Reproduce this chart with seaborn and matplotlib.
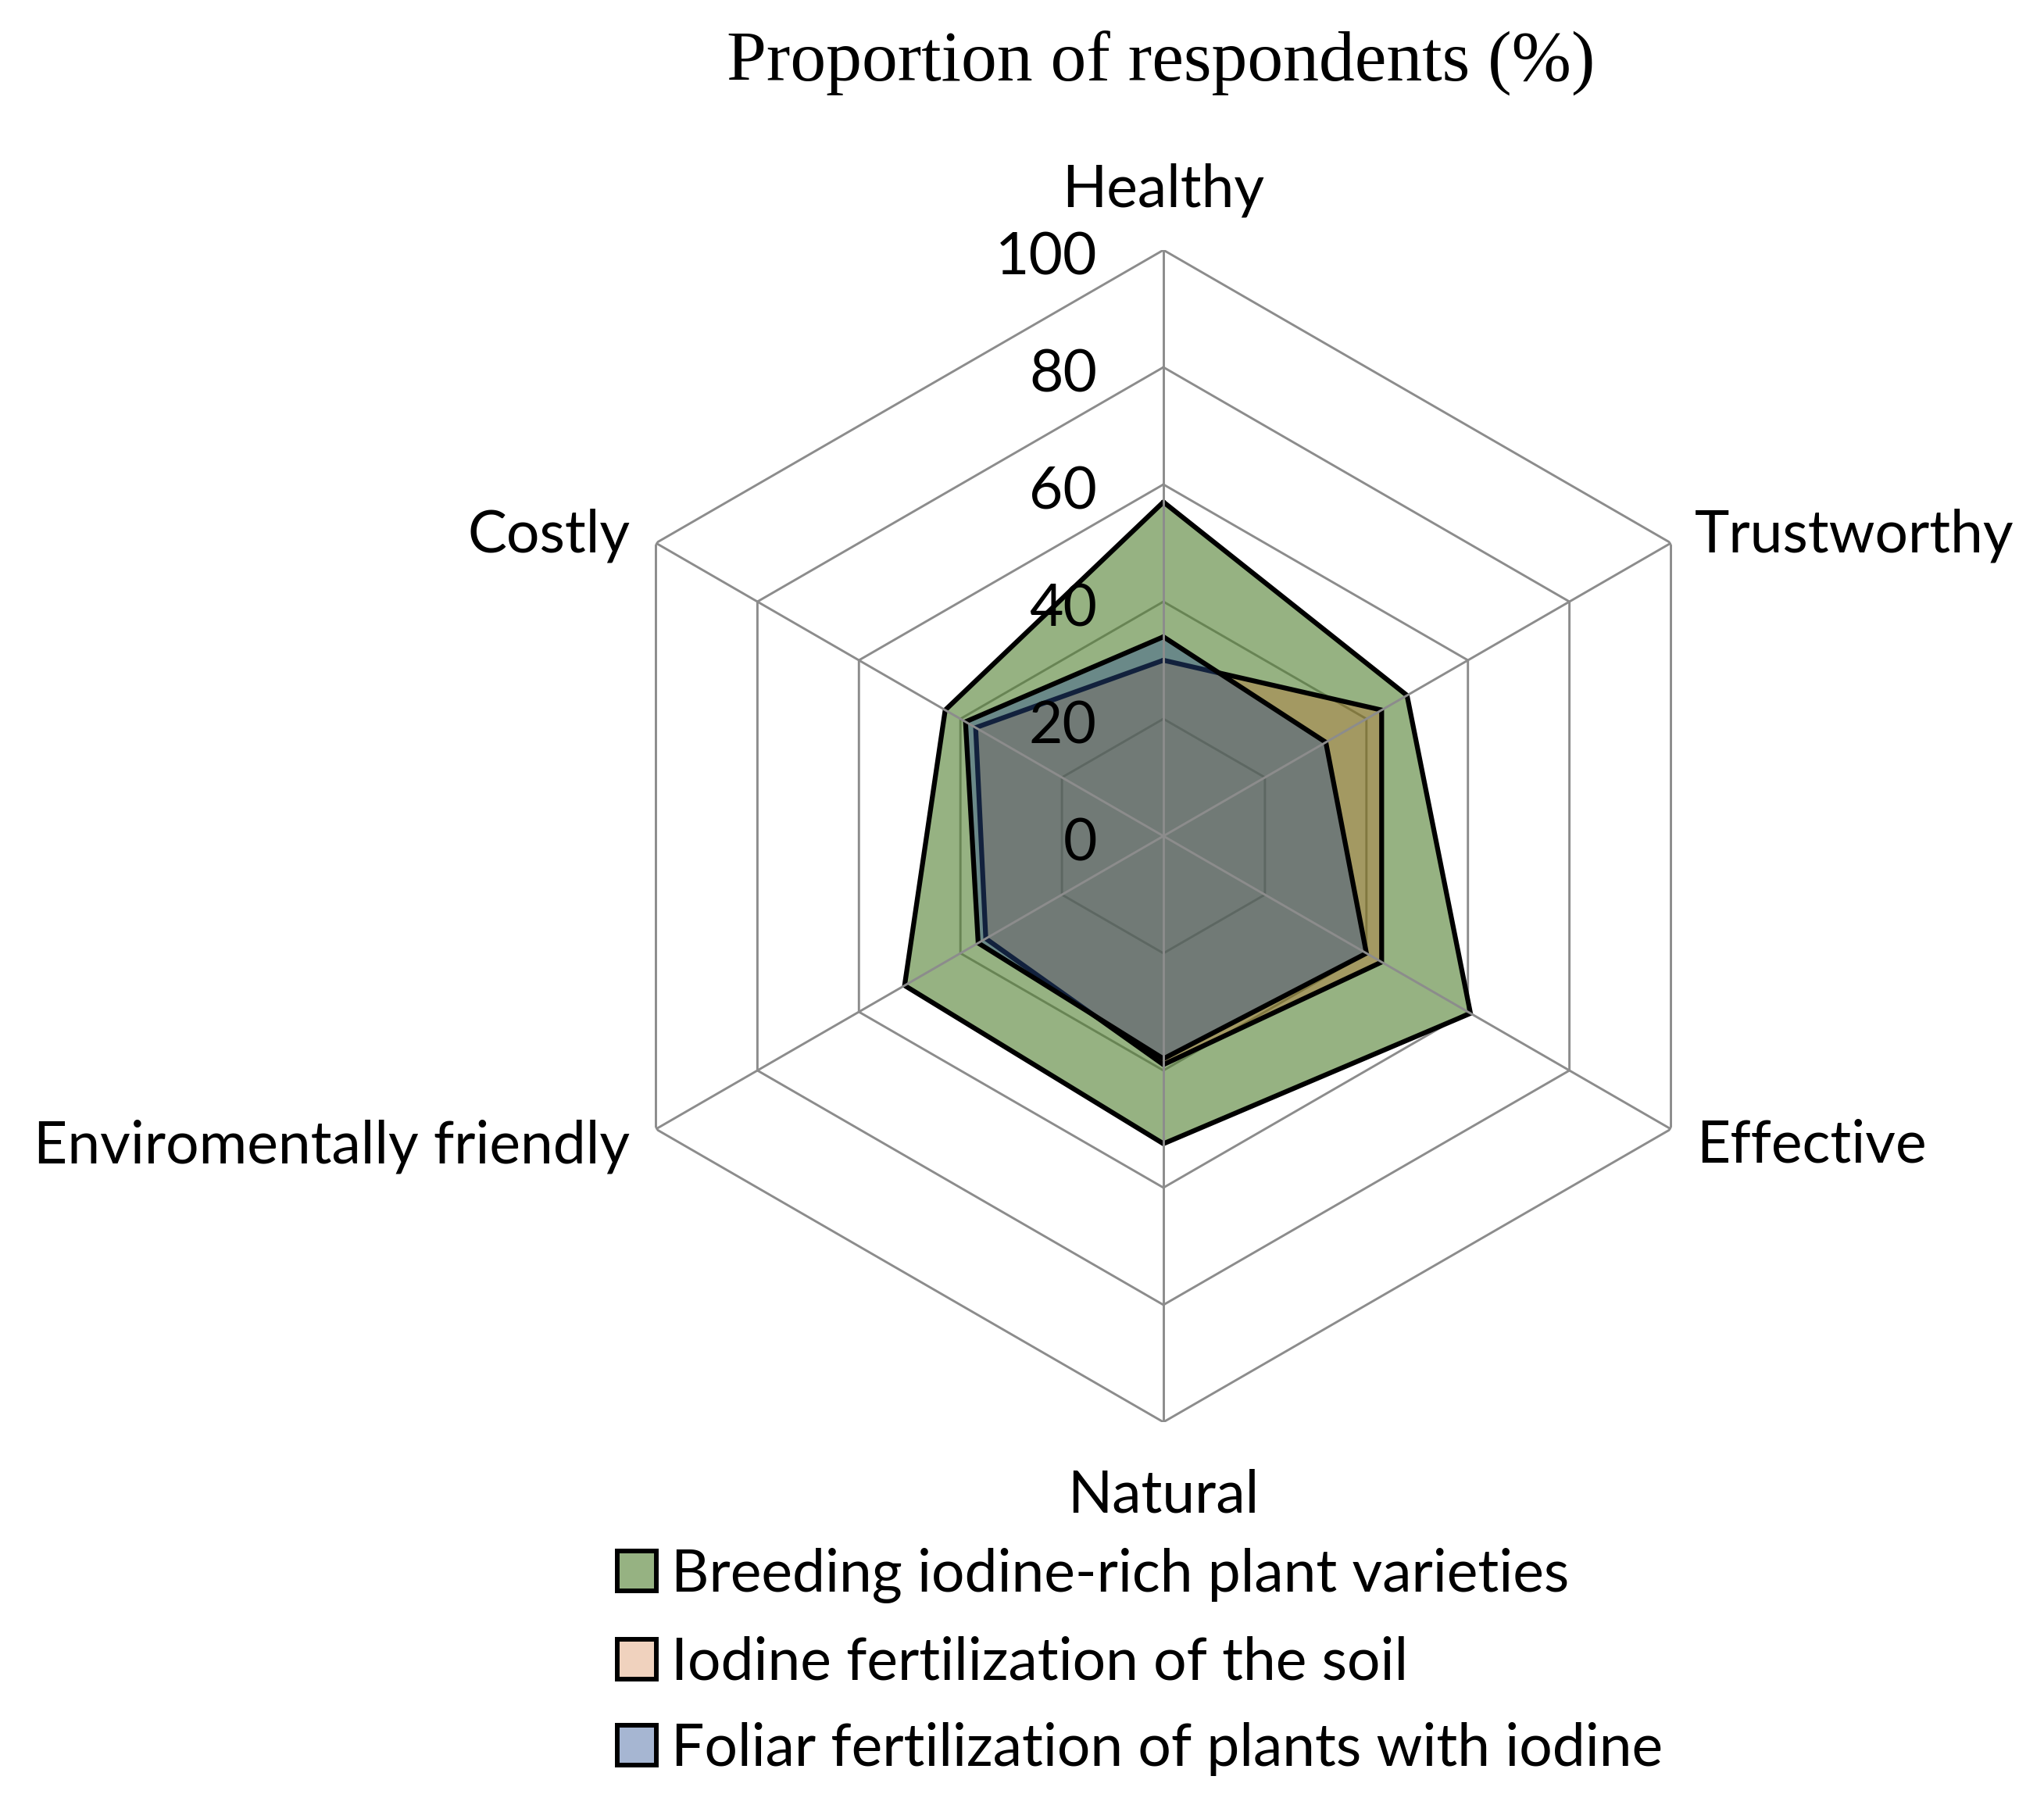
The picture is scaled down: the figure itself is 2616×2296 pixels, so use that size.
import numpy as np
import pandas as pd
import matplotlib
matplotlib.use("Agg")
import matplotlib.pyplot as plt
from matplotlib.patches import Patch
import seaborn as sns

# ---------------- data ----------------
categories = ["Healthy", "Trustworthy", "Effective", "Natural",
              "Enviromentally friendly", "Costly"]
breeding = [57, 48, 60.5, 52.5, 51, 43]
soil = [30, 43, 43, 39, 35, 37]
foliar = [34, 32, 40, 38, 36.5, 39]
series_names = ["Breeding iodine-rich plant varieties",
                "Iodine fertilization of the soil",
                "Foliar fertilization of plants with iodine"]
ring_levels = [0, 20, 40, 60, 80, 100]
title = "Proportion of respondents (%)"

# ---------------- style ----------------
sns.set_theme(style="white")
plt.rcParams["font.family"] = ["Lato", "DejaVu Sans"]

fill_colors = [(80/255, 127/255, 47/255, 0.60),
               (199/255, 87/255, 12/255, 0.267),
               (45/255, 81/255, 146/255, 0.42)]
legend_colors = ["#96B282", "#F0D2BE", "#A6B6D2"]
grid_color = "#8C8C8C"

W, H, DPI = 2616, 2296, 100
fig = plt.figure(figsize=(W / DPI, H / DPI), dpi=DPI)
fig.patch.set_facecolor("white")

cx, cy, R = 1489, 1070, 750
ax = fig.add_axes([(cx - R) / W, (H - cy - R) / H, 2 * R / W, 2 * R / H],
                  projection="polar")
ax.set_theta_zero_location("N")
ax.set_theta_direction(-1)
ax.set_ylim(0, 100)
ax.grid(False)
ax.set_xticks([])
ax.set_yticks([])
ax.spines["polar"].set_visible(False)
ax.set_facecolor((1, 1, 1, 0))

n = len(categories)
angles = np.linspace(0, 2 * np.pi, n, endpoint=False)
closed_angles = np.append(angles, angles[0] + 2 * np.pi)

# hexagonal rings (below the fills)
for lvl in ring_levels[1:]:
    ax.plot(closed_angles, [lvl] * (n + 1), color=grid_color, lw=2.1,
            zorder=1, solid_joinstyle="miter")

# filled series
all_series = [breeding, soil, foliar]
z = 2
for vals, name, fc in zip(all_series, series_names, fill_colors):
    closed_vals = list(vals) + [vals[0]]
    ax.fill(closed_angles, closed_vals, facecolor=fc, edgecolor="none",
            zorder=z)
    df = pd.DataFrame({"theta": closed_angles, "r": closed_vals})
    sns.lineplot(data=df, x="theta", y="r", sort=False, estimator=None,
                 color="black", lw=4.5, ax=ax, zorder=z + 0.5,
                 solid_joinstyle="miter")
    z += 1

# spokes (on top)
for a in angles:
    ax.plot([a, a], [0, 100], color=grid_color, lw=2.1, zorder=8)

ax.set_xlabel("")
ax.set_ylabel("")

label_fs = 54
# category labels
offsets = [((0, 55), "center"), ((30, -11), "left"), ((33, -43), "left"),
           ((0, -115), "center"), ((-33, -43), "right"), ((-33, -11), "right")]
for a, lab, (off, ha) in zip(angles, categories, offsets):
    ax.annotate(lab, xy=(a, 100), xytext=off, textcoords="offset pixels",
                ha=ha, va="baseline", fontsize=label_fs, color="black",
                zorder=10, annotation_clip=False)

# radial tick labels
for lvl in ring_levels:
    ax.annotate(str(lvl), xy=(0, lvl), xytext=(-85, -32),
                textcoords="offset pixels", ha="right", va="baseline",
                fontsize=label_fs, color="black", zorder=10,
                annotation_clip=False)

# title
fig.text(1486 / W, 1 - 103 / H, title, ha="center", va="baseline",
         fontsize=66, family=["Liberation Serif", "DejaVu Serif"],
         color="black")

# legend
handles = [Patch(facecolor=c, edgecolor="black", lw=4.3) for c in legend_colors]
fig.legend(handles, series_names, loc="center left",
           bbox_to_anchor=(790 / W, 1 - 2127 / H), frameon=False,
           fontsize=label_fs, labelcolor="black",
           handlelength=0.67, handleheight=0.67,
           handletextpad=0.25, labelspacing=0.55, borderpad=0,
           borderaxespad=0)

fig.savefig("out.png", dpi=DPI, facecolor="white")
